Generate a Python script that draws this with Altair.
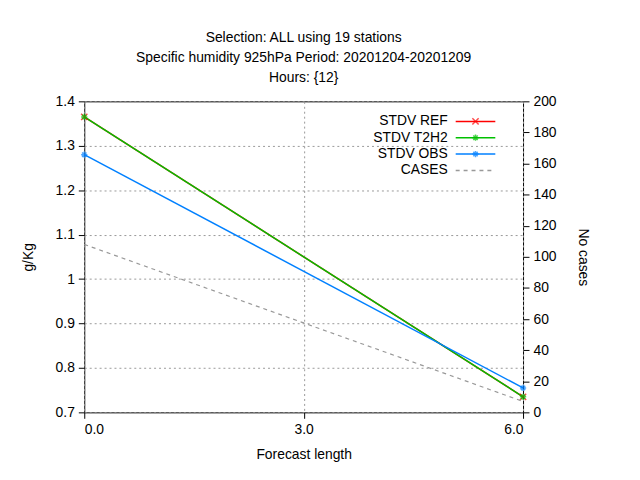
import altair as alt
import pandas as pd

lead = [0, 6]
ref = [1.365, 0.735]
t2h2 = [1.365, 0.735]
obs = [1.28, 0.755]
cases = [108, 7]

names = ["STDV REF", "STDV T2H2", "STDV OBS"]
colors = ["#ff0000", "#00c000", "#0080ff"]

rows = []
for n, vals in zip(names, [ref, t2h2, obs]):
    for l, v in zip(lead, vals):
        rows.append({"lead": l, "val": v, "exp": n})
df = pd.DataFrame(rows)
dc = pd.DataFrame({"lead": lead, "cases": cases})

F = "Liberation Sans"
W, H = 443, 314
xs = alt.Scale(domain=[0, 6])
ys = alt.Scale(domain=[0.7, 1.4])
cs = alt.Scale(domain=names, range=colors)
star = "M-1,0L1,0M0,-1L0,1M-0.7,-0.7L0.7,0.7M-0.7,0.7L0.7,-0.7"
xshape = "M-1,-1L1,1M-1,1L1,-1"
shapes = alt.Scale(domain=names, range=[xshape, star, star])

x = alt.X("lead:Q", scale=xs, title="Forecast length",
          axis=alt.Axis(values=[0, 3, 6], gridDash=[2, 3], gridColor="#999", titlePadding=12))
base = alt.Chart(df)
lines = base.mark_line(strokeWidth=1.5).encode(
    x=x,
    y=alt.Y("val:Q", scale=ys, title="g/Kg",
            axis=alt.Axis(values=[0.7, 0.8, 0.9, 1.0, 1.1, 1.2, 1.3, 1.4], format="~g",
                          gridDash=[2, 3], gridColor="#999", titlePadding=20)),
    color=alt.Color("exp:N", scale=cs, legend=None),
    order=alt.Order("exp:N"),
    detail="exp:N")
pts = base.mark_point(size=40, strokeWidth=1.5, filled=False).encode(
    x=alt.X("lead:Q", scale=xs), y=alt.Y("val:Q", scale=ys),
    color=alt.Color("exp:N", scale=cs, legend=None),
    shape=alt.Shape("exp:N", scale=shapes, legend=None))
left = alt.layer(lines, pts)

right = alt.Chart(dc).mark_line(strokeDash=[4, 4], color="#999", strokeWidth=1.2).encode(
    x=alt.X("lead:Q", scale=xs),
    y=alt.Y("cases:Q", scale=alt.Scale(domain=[0, 200]), title="No cases",
            axis=alt.Axis(orient="right", values=list(range(0, 201, 20)), grid=False, titlePadding=20)))

# legend
leg = pd.DataFrame({"name": names + ["CASES"], "i": [0, 1, 2, 3],
                    "col": colors + ["#999"]})
lys = alt.Scale(domain=[0, 1, 2, 3], range=[12, 78])
lt = alt.Chart(leg).mark_text(align="right", font=F, fontSize=14).encode(
    x=alt.value(W - 76), y=alt.Y("i:O", scale=lys, axis=None), text="name:N")
lr = alt.Chart(leg).mark_rule(strokeWidth=1.5).encode(
    x=alt.value(W - 68), x2=alt.value(W - 28),
    y=alt.Y("i:O", scale=lys, axis=None),
    color=alt.Color("col:N", scale=None),
    strokeDash=alt.condition("datum.i == 3", alt.value([4, 4]), alt.value([1, 0])))
legpts = leg[leg.i < 3]
lp = alt.Chart(legpts).mark_point(size=40, strokeWidth=1.5).encode(
    x=alt.value(W - 48), y=alt.Y("i:O", scale=lys, axis=None),
    color=alt.Color("col:N", scale=None),
    shape=alt.Shape("name:N", scale=shapes, legend=None))
legend = alt.layer(lt, lr, lp)

chart = alt.layer(left, right, legend).resolve_scale(y="independent", color="independent", shape="independent").properties(
    width=W, height=H,
    title=alt.Title(["Selection: ALL using    19 stations",
                     "Specific humidity 925hPa   Period: 20201204-20201209",
                     "Hours: {12}"], fontSize=14, fontWeight="normal", font=F, lineHeight=20, offset=10),
    autosize=alt.AutoSizeParams(type="none"),
    padding={"left": 77, "top": 92, "right": 110, "bottom": 60},
).configure_view(stroke="black", strokeWidth=1).configure_axis(
    labelFont=F, titleFont=F, labelFontSize=14, titleFontSize=14, titleFontWeight="normal",
    domain=False, tickColor="black", tickSize=6, labelColor="black", titleColor="black", labelPadding=4)

chart.save("out.html", embed_options={"renderer": "svg", "actions": False})
